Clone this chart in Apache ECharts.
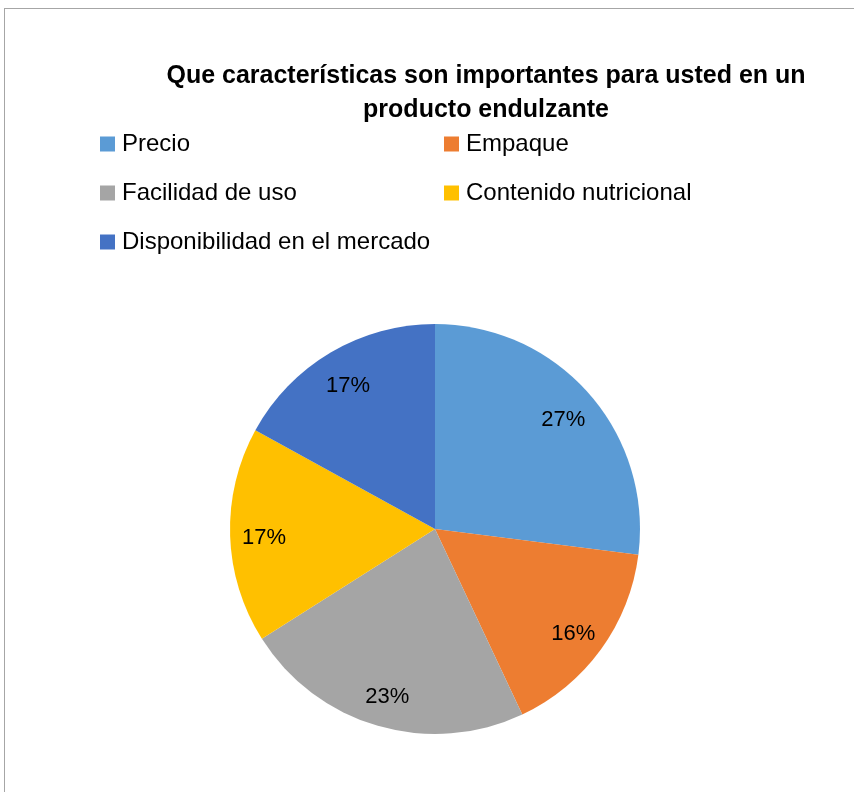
<!DOCTYPE html>
<html>
<head>
<meta charset="utf-8">
<script src="https://cdn.jsdelivr.net/npm/echarts@6/dist/echarts.min.js"></script>
<style>
  html, body { margin: 0; padding: 0; background: #fff; }
  #chart { width: 854px; height: 792px; }
</style>
</head>
<body>
<div id="chart"></div>
<script>
// Survey answers: share of respondents per characteristic (percent)
const categories = ['Precio', 'Empaque', 'Facilidad de uso', 'Contenido nutricional', 'Disponibilidad en el mercado'];
const values = [27, 16, 23, 17, 17];
const colors = ['#5B9BD5', '#ED7D31', '#A5A5A5', '#FFC000', '#4472C4'];
const titleText = 'Que características son importantes para usted en un\nproducto endulzante';

const FONT = '"Liberation Sans", Arial, sans-serif';
const pieData = categories.map((name, i) => ({ name, value: values[i], itemStyle: { color: colors[i] } }));

const legendText = { fontFamily: FONT, fontSize: 24, lineHeight: 24, color: '#000', padding: [0, 0, 0, 2] };

const chart = echarts.init(document.getElementById('chart'), null, { renderer: 'canvas' });
chart.setOption({
  backgroundColor: '#fff',
  animation: false,
  title: {
    text: titleText,
    left: 481,
    textAlign: 'center',
    top: 54,
    textStyle: { fontFamily: FONT, fontWeight: 'bold', fontSize: 25, lineHeight: 34, color: '#000' }
  },
  legend: [
    {
      orient: 'vertical', left: 100, top: 132, padding: 0, itemGap: 25,
      itemWidth: 15, itemHeight: 15, icon: 'rect',
      data: [categories[0], categories[2], categories[4]],
      textStyle: legendText, selectedMode: false
    },
    {
      orient: 'vertical', left: 444, top: 132, padding: 0, itemGap: 25,
      itemWidth: 15, itemHeight: 15, icon: 'rect',
      data: [categories[1], categories[3]],
      textStyle: legendText, selectedMode: false
    }
  ],
  series: [
    {
      type: 'pie',
      center: [435, 529],
      radius: [0, 205],
      startAngle: 90,
      clockwise: true,
      data: pieData,
      label: { show: false },
      labelLine: { show: false },
      silent: true
    },
    {
      // transparent ring used only to place the percentage labels
      type: 'pie',
      center: [435, 529],
      radius: [131, 205],
      startAngle: 90,
      clockwise: true,
      data: pieData.map(d => ({ name: d.name, value: d.value, itemStyle: { color: 'rgba(0,0,0,0)' } })),
      label: {
        show: true, position: 'inside', formatter: '{d}%',
        fontFamily: FONT, fontSize: 22, color: '#000', offset: [0, 4]
      },
      labelLine: { show: false },
      silent: true,
      legendHoverLink: false
    }
  ],
  graphic: [
    { type: 'line', shape: { x1: 4, y1: 8.5, x2: 854, y2: 8.5 }, style: { stroke: '#a6a6a6', lineWidth: 1 } },
    { type: 'line', shape: { x1: 4.5, y1: 8, x2: 4.5, y2: 792 }, style: { stroke: '#a6a6a6', lineWidth: 1 } }
  ]
});
</script>
</body>
</html>
